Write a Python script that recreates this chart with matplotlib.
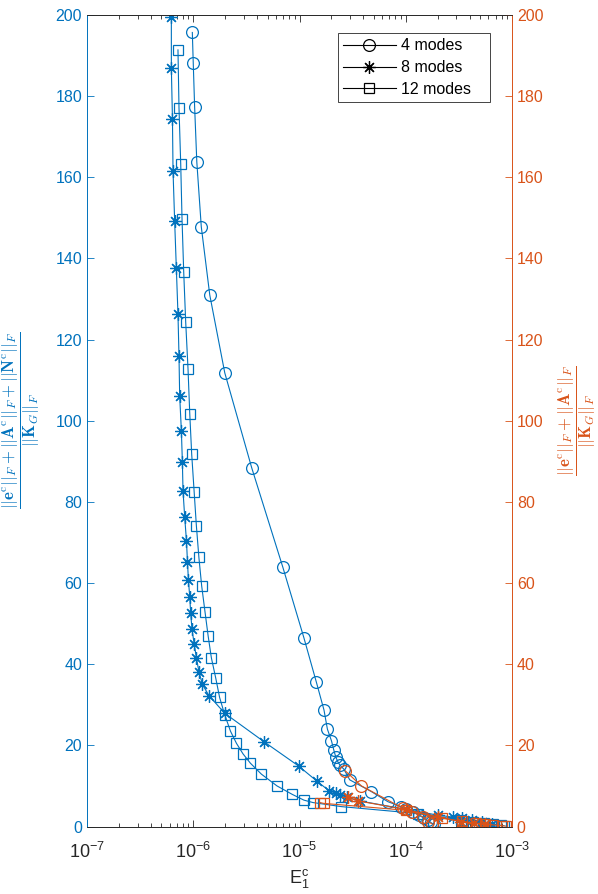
import matplotlib
matplotlib.use("Agg")
import matplotlib.pyplot as plt
import numpy as np

plt.rcParams['font.family'] = ['Liberation Sans', 'DejaVu Sans']
plt.rcParams['mathtext.fontset'] = 'custom'
plt.rcParams['mathtext.rm'] = 'Liberation Sans'
plt.rcParams['mathtext.it'] = 'Liberation Sans:italic'
plt.rcParams['mathtext.bf'] = 'Liberation Sans:bold'

# left axis data (blue)
x4 = [9.8e-7, 1.00e-6, 1.03e-6, 1.08e-6, 1.19e-6, 1.43e-6, 1.98e-6, 3.55e-6, 6.95e-6,
      1.10e-5, 1.44e-5, 1.70e-5, 1.83e-5, 2.0e-5, 2.10e-5, 2.19e-5, 2.29e-5, 2.39e-5,
      2.62e-5, 2.97e-5, 4.75e-5, 6.81e-5, 9.1e-5, 1.0e-4, 1.16e-4, 1.32e-4, 1.48e-4,
      1.61e-4, 1.72e-4, 1.83e-4]
y4 = [195.7, 188.1, 177.4, 163.8, 147.8, 131.0, 111.8, 88.4, 64.0,
      46.5, 35.6, 28.7, 24.0, 21.1, 18.9, 17.2, 16.0, 15.2,
      14.1, 11.5, 8.6, 6.1, 4.9, 4.2, 3.6, 2.8, 2.1,
      1.5, 1.0, 0.5]

x8 = [6.22e-7, 6.22e-7, 6.37e-7, 6.45e-7, 6.68e-7, 6.93e-7, 7.18e-7, 7.34e-7, 7.45e-7,
      7.73e-7, 7.90e-7, 8.01e-7, 8.31e-7, 8.63e-7, 8.82e-7, 9.00e-7, 9.27e-7, 9.46e-7,
      9.73e-7, 1.02e-6, 1.07e-6, 1.13e-6, 1.22e-6, 1.41e-6, 1.98e-6, 4.63e-6, 9.82e-6,
      1.47e-5, 1.90e-5, 2.19e-5, 2.39e-5, 2.8e-5, 3.69e-5, 2.0e-4, 2.8e-4, 3.4e-4,
      4.2e-4, 5.2e-4, 6.5e-4]
y8 = [199.4, 186.9, 174.4, 161.6, 149.3, 137.6, 126.3, 116.0, 106.1,
      97.5, 89.8, 82.7, 76.2, 70.4, 65.3, 60.8, 56.5, 52.5,
      48.6, 45.0, 41.6, 38.2, 35.0, 32.2, 27.9, 20.9, 14.9,
      11.1, 8.8, 8.2, 7.8, 7.2, 6.3, 2.8, 2.3, 2.0,
      1.5, 1.0, 0.6]

x12 = [7.18e-7, 7.34e-7, 7.62e-7, 7.84e-7, 8.13e-7, 8.49e-7, 8.93e-7, 9.27e-7, 9.67e-7,
       1.02e-6, 1.07e-6, 1.13e-6, 1.20e-6, 1.29e-6, 1.38e-6, 1.48e-6, 1.63e-6, 1.77e-6,
       1.98e-6, 2.24e-6, 2.55e-6, 2.94e-6, 3.45e-6, 4.38e-6, 6.14e-6, 8.57e-6, 1.10e-5,
       1.34e-5, 2.48e-5, 1.3e-4, 3.3e-4, 4.3e-4, 5.5e-4, 6.6e-4, 7.8e-4, 8.4e-4]
y12 = [191.4, 177.2, 163.3, 149.7, 136.7, 124.3, 112.7, 101.7, 91.7,
       82.4, 74.1, 66.3, 59.3, 52.9, 47.0, 41.6, 36.5, 31.8,
       27.5, 23.5, 20.5, 17.9, 15.6, 12.9, 10.0, 7.9, 6.5,
       5.9, 4.9, 3.2, 1.6, 1.2, 0.9, 0.6, 0.3, 0.2]

# right axis data (orange)
x4r = [2.70e-5, 3.83e-5, 9.4e-5, 1.15e-4, 1.45e-4, 1.62e-4, 1.78e-4]
y4r = [13.7, 10.0, 4.5, 3.6, 2.4, 1.2, 0.6]
x8r = [2.83e-5, 3.56e-5, 1.0e-4, 2.0e-4, 3.3e-4, 4.4e-4, 5.6e-4]
y8r = [7.2, 6.3, 4.2, 2.4, 1.2, 0.8, 0.5]
x12r = [1.56e-5, 1.69e-5, 1.0e-4, 2.2e-4, 3.4e-4, 4.6e-4, 5.6e-4, 6.6e-4, 8.0e-4, 8.7e-4]
y12r = [5.9, 5.7, 4.0, 2.0, 1.3, 0.8, 0.6, 0.4, 0.2, 0.1]

labels = ['4 modes', '8 modes', '12 modes']
xticks = [1e-7, 1e-6, 1e-5, 1e-4, 1e-3]
xticklabels = ['$10^{-7}$', '$10^{-6}$', '$10^{-5}$', '$10^{-4}$', '$10^{-3}$']
yticks = list(range(0, 201, 20))

blue = '#0072BD'
orange = '#D95319'
gray = '#262626'
star = (8, 2, 0)

fig = plt.figure(figsize=(5.98, 8.94), dpi=100)
ax = fig.add_axes([0.1455, 0.0755, 0.7107, 0.9077])

kw = dict(lw=0.8, mew=0.9, mfc='none')
ax.plot(x4, y4, '-', marker='o', ms=8.5, color=blue, **kw)
ax.plot(x8, y8, '-', marker=star, ms=9, color=blue, **kw)
ax.plot(x12, y12, '-', marker='s', ms=7, color=blue, **kw)

ax.set_xscale('log')
ax.set_xlim(1e-7, 1e-3)
ax.set_ylim(0, 200)
ax.set_xticks(xticks)
ax.set_xticklabels(xticklabels)
ax.set_yticks(yticks)

ax2 = ax.twinx()
ax2.plot(x4r, y4r, '-', marker='o', ms=8.5, color=orange, **kw)
ax2.plot(x8r, y8r, '-', marker=star, ms=9, color=orange, **kw)
ax2.plot(x12r, y12r, '-', marker='s', ms=7, color=orange, **kw)
ax2.set_ylim(0, 200)
ax2.set_yticks(yticks)

for a in (ax, ax2):
    a.tick_params(which='both', direction='in', top=True, labelsize=11.5)
    a.tick_params(which='major', length=5, width=0.6)
    a.tick_params(which='minor', length=3, width=0.6)
    for s in a.spines.values():
        s.set_linewidth(0.6)
    a.spines['top'].set_color(gray)
    a.spines['bottom'].set_color(gray)
    a.spines['left'].set_color(blue)
    a.spines['right'].set_color(orange)

ax.tick_params(axis='x', colors=gray, which='both', pad=11, labelsize=13)
ax.tick_params(axis='y', colors=blue, right=False)
ax2.tick_params(axis='y', colors=orange, left=False)

ax.set_xlabel(r'$\mathrm{E}_1^\mathrm{c}$', fontsize=13, color=gray, labelpad=4)
ax.set_ylabel(r'$\dfrac{||\mathbf{e}^\mathrm{c}||_F+||\mathbf{A}^\mathrm{c}||_F+||\mathbf{N}^\mathrm{c}||_F}{||\mathbf{K}_G||_F}$',
              fontsize=12, color=blue, math_fontfamily='cm')
ax2.set_ylabel(r'$\dfrac{||\mathbf{e}^\mathrm{c}||_F+||\mathbf{A}^\mathrm{c}||_F}{||\mathbf{K}_G||_F}$',
               fontsize=12, color=orange, math_fontfamily='cm')
ax.yaxis.set_label_coords(-0.106, 0.5)
ax2.yaxis.set_label_coords(1.105, 0.5)

h1, = ax.plot([], [], '-', marker='o', ms=8.5, color='k', **kw)
h2, = ax.plot([], [], '-', marker=star, ms=9, color='k', **kw)
h3, = ax.plot([], [], '-', marker='s', ms=7, color='k', **kw)
leg = ax2.legend([h1, h2, h3], [s + '   ' for s in labels], loc='upper right',
                 bbox_to_anchor=(0.9475, 0.9780), fontsize=11.5, fancybox=False,
                 edgecolor=gray, framealpha=1, borderpad=0.35, labelspacing=0.42,
                 handlelength=3.3, handletextpad=0.3, borderaxespad=0)
leg.get_frame().set_linewidth(0.6)

fig.savefig('out.png', dpi=100)
